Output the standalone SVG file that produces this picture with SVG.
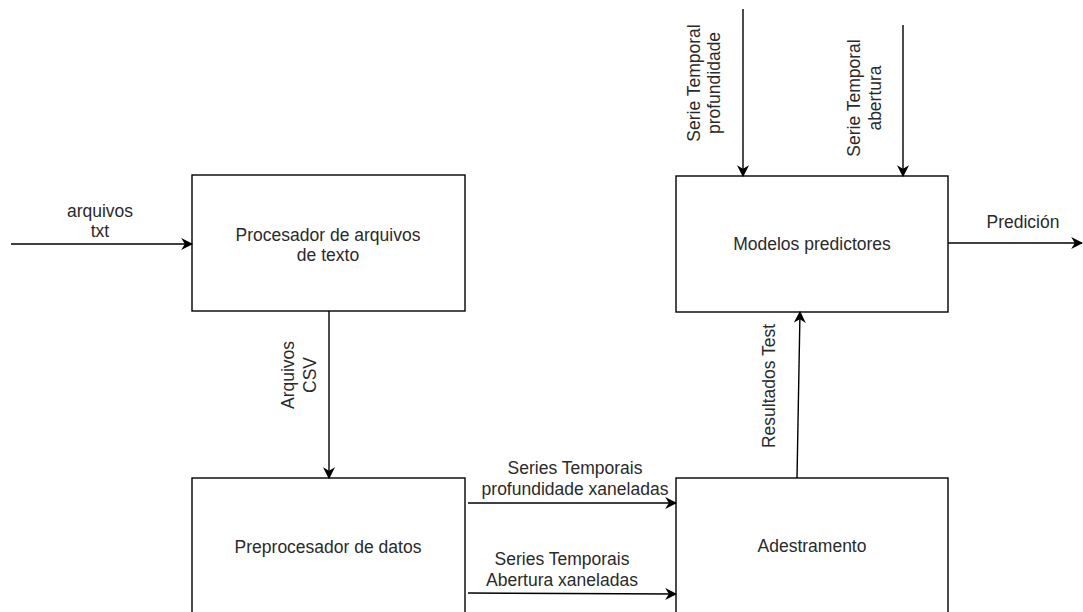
<svg xmlns="http://www.w3.org/2000/svg" width="1083" height="612" viewBox="0 0 1083 612">
  <defs>
    <marker id="arrow" viewBox="0 0 10 10" refX="9" refY="5" markerWidth="12" markerHeight="12" markerUnits="userSpaceOnUse" orient="auto">
      <path d="M0,0 L10,5 L0,10 L3,5 Z" fill="#000"/>
    </marker>
  </defs>
  <style>
    .box { fill: #fff; stroke: #000; stroke-width: 1.4; }
    .edge { fill: none; stroke: #000; stroke-width: 1.4; marker-end: url(#arrow); }
    text { font-family: "Liberation Sans", Arial, sans-serif; font-size: 17.5px; fill: #2a2a2a; text-anchor: middle; }
  </style>
  <rect width="1083" height="612" fill="#fff"/>

  <g id="procesador">
    <rect class="box" x="192" y="175" width="273" height="136"/>
    <text x="328" y="241">Procesador de arquivos</text>
    <text x="328" y="261">de texto</text>
  </g>

  <g id="modelos">
    <rect class="box" x="676" y="176" width="272" height="136"/>
    <text x="812" y="250">Modelos predictores</text>
  </g>

  <g id="preprocesador">
    <rect class="box" x="192" y="478" width="273" height="150"/>
    <text x="328" y="553">Preprocesador de datos</text>
  </g>

  <g id="adestramento">
    <rect class="box" x="676" y="478" width="272" height="150"/>
    <text x="812" y="552">Adestramento</text>
  </g>

  <g id="connectors">
    <path class="edge" d="M11,244 L192,244"/>
    <text x="100" y="217">arquivos</text>
    <text x="100" y="237">txt</text>

    <path class="edge" d="M329,311 L329,478"/>
    <text transform="translate(294,375) rotate(-90)">Arquivos</text>
    <text transform="translate(316,375) rotate(-90)">CSV</text>

    <path class="edge" d="M468,503 L676,503"/>
    <text x="575" y="474">Series Temporais</text>
    <text x="575" y="495">profundidade xaneladas</text>

    <path class="edge" d="M468,593 L676,594"/>
    <text x="562" y="565">Series Temporais</text>
    <text x="562" y="586">Abertura xaneladas</text>

    <path class="edge" d="M797,478 L800,312"/>
    <text transform="translate(775,386) rotate(-90)">Resultados Test</text>

    <path class="edge" d="M743,9 L743,176"/>
    <text transform="translate(700,83) rotate(-90)">Serie Temporal</text>
    <text transform="translate(720,83) rotate(-90)">profundidade</text>

    <path class="edge" d="M903,25 L903,176"/>
    <text transform="translate(860,98) rotate(-90)">Serie Temporal</text>
    <text transform="translate(881,98) rotate(-90)">abertura</text>

    <path class="edge" d="M948,243 L1082,243"/>
    <text x="1023" y="228">Predición</text>
  </g>
</svg>
